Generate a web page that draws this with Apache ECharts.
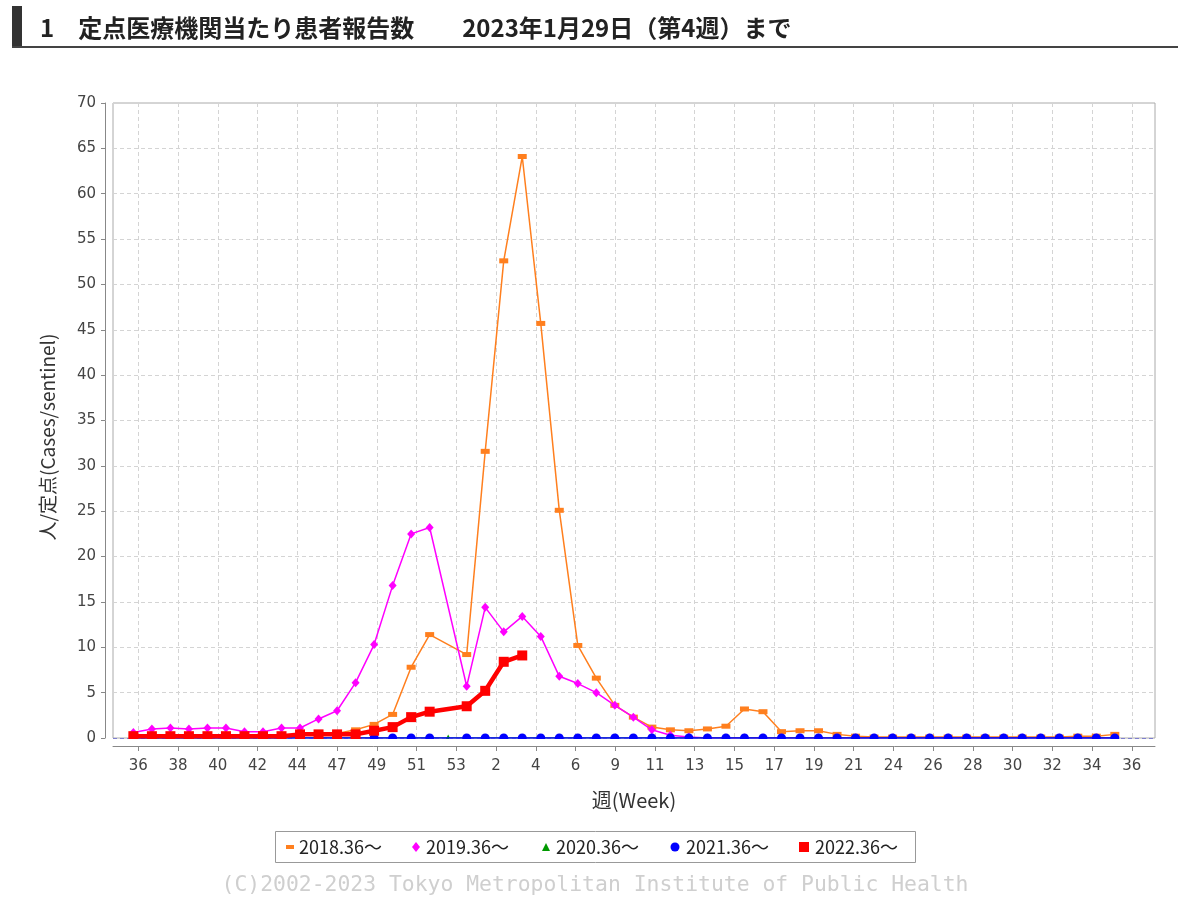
<!DOCTYPE html>
<html>
<head>
<meta charset="utf-8">
<script src="https://cdn.jsdelivr.net/npm/echarts@6/dist/echarts.min.js"></script>
<style>
html,body{margin:0;padding:0;background:#fff;}
#chart{width:1200px;height:920px;}
</style>
</head>
<body>
<div id="chart"></div>
<script>
// week slots along the x axis (season week 36 .. 53, 1 .. 36)
const weeks = ['36','37','38','39','40','41','42','43','44','45','46','47','48','49','50','51','52','53',
  '1','2','3','4','5','6','7','8','9','10','11','12','13','14','15','16','17','18','19','20',
  '21','22','23','24','25','26','27','28','29','30','31','32','33','34','35','36'];
const tickLabels = ['36','38','40','42','44','47','49','51','53','2','4','6','9','11','13','15','17','19','21','24','26','28','30','32','34','36'];
const seriesNames = ['2018.36〜','2019.36〜','2020.36〜','2021.36〜','2022.36〜'];

const s2018 = [0.1,0.1,0.1,0.1,0.1,0.2,0.2,0.2,0.2,0.3,
  0.5,0.5,0.9,1.5,2.6,7.8,11.4,null,9.2,31.6,
  52.6,64.1,45.7,25.1,10.2,6.6,3.6,2.3,1.2,0.9,
  0.8,1.0,1.3,3.2,2.9,0.7,0.8,0.8,0.4,0.2,
  0.1,0.1,0.1,0.1,0.1,0.1,0.1,0.1,0.1,0.1,
  0.1,0.2,0.2,0.4];
const s2019 = [0.6,1.0,1.1,1.0,1.1,1.1,0.7,0.7,1.1,1.1,
  2.1,3.0,6.1,10.3,16.8,22.5,23.2,null,5.7,14.4,
  11.7,13.4,11.2,6.8,6.0,5.0,3.6,2.3,0.9,0.3,
  0.1,0,0,0,0,0,0,0,0,0,
  0,0,0,0,0,0,0,0,0,0,
  0,0,0,0];
const s2020 = [0,0,0,0,0,0,0,0,0,0,
  0,0,0,0,0,0,0,0,0,0,
  0,0,0,0,0,0,0,0,0,0,
  0,0,0,0,0,0,0,0,0,0,
  0,0,0,0,0,0,0,0,0,0,
  0,0,0,0];
const s2021 = [0,0,0,0,0,0,0,0,0,0,
  0,0,0,0,0,0,0,null,0,0,
  0,0,0,0,0,0,0,0,0,0,
  0,0,0,0,0,0,0,0,0,0,
  0,0,0,0,0,0,0,0,0,0,
  0,0,0,0];
const s2022 = [0.2,0.2,0.2,0.2,0.2,0.2,0.2,0.2,0.2,0.4,
  0.4,0.4,0.4,0.8,1.2,2.3,2.9,null,3.5,5.2,
  8.4,9.1];

const colors = ['#ff7f1e','#ff00ff','#009900','#0000ff','#ff0000'];

// x-axis tick placement (in week-slot units)
const tickStart = 0.27, tickStep = 2.146;
const tickPos = tickLabels.map((_, k) => +(tickStart + k * tickStep).toFixed(4));

function pairs(arr){ return arr.map((v,i)=>[i, v == null ? '-' : v]); }

const chart = echarts.init(document.getElementById('chart'), null, {renderer:'canvas'});
const baseFont = '"Noto Sans CJK JP","Noto Sans",sans-serif';
const tickFont = '"DejaVu Sans",sans-serif';

const seriesData = [s2018, s2019, s2020, s2021, s2022];
const symbols = ['rect','diamond','triangle','circle','rect'];
const symSizes = [[9,5],[8,9],[7,7],[9,9],[10,10]];
const widths = [1.5,1.5,1.2,1.5,4.5];

const series = seriesData.map((arr, i) => ({
  name: seriesNames[i],
  type: 'line',
  data: pairs(arr),
  connectNulls: true,
  symbol: symbols[i],
  symbolSize: symSizes[i],
  showAllSymbol: true,
  lineStyle: {color: colors[i], width: widths[i]},
  itemStyle: {color: colors[i]},
  z: 2 + i,
  markLine: i === 3 ? {
    silent: true, symbol: 'none', label: {show: false},
    lineStyle: {color: '#7f7fcf', type: [4,3], width: 1},
    data: [{yAxis: 0}]
  } : undefined
}));

// legend drawn as graphics
const legendItems = [
  {x: 290, text: 299},
  {x: 416, text: 426},
  {x: 546, text: 556},
  {x: 675, text: 686},
  {x: 804, text: 815}
];
const legendY = 847;
const legendGraphics = [
  {type:'rect', shape:{x:275.5, y:831.5, width:640, height:31}, style:{fill:'#fff', stroke:'#999', lineWidth:1}, z:100}
];
legendItems.forEach((it, i) => {
  let g;
  if (i === 0) g = {type:'rect', shape:{x:it.x-4, y:legendY-2, width:8, height:4}, style:{fill:colors[0]}};
  else if (i === 1) g = {type:'polygon', shape:{points:[[it.x,legendY-5],[it.x+4,legendY],[it.x,legendY+5],[it.x-4,legendY]]}, style:{fill:colors[1]}};
  else if (i === 2) g = {type:'polygon', shape:{points:[[it.x,legendY-4],[it.x+4,legendY+4],[it.x-4,legendY+4]]}, style:{fill:colors[2]}};
  else if (i === 3) g = {type:'circle', shape:{cx:it.x, cy:legendY, r:4.5}, style:{fill:colors[3]}};
  else g = {type:'rect', shape:{x:it.x-5, y:legendY-5, width:10, height:10}, style:{fill:colors[4]}};
  g.z = 101;
  legendGraphics.push(g);
  legendGraphics.push({type:'text', x:it.text, y:legendY, z:101,
    style:{text: seriesNames[i], fill:'#222', font:'18px ' + baseFont, textVerticalAlign:'middle', textAlign:'left'}});
});

const option = {
  animation: false,
  backgroundColor: '#fff',
  textStyle: {fontFamily: baseFont},
  title: {
    text: '1　定点医療機関当たり患者報告数　　2023年1月29日（第4週）まで',
    left: 35, top: 11,
    textStyle: {fontSize: 24, fontWeight: 'bold', color: '#222', fontFamily: baseFont}
  },
  grid: {left: 113, right: 45, top: 103, bottom: 182, show: true, borderColor: '#aaa', borderWidth: 1, backgroundColor: '#fff'},
  xAxis: {
    type: 'value', min: -1.1, max: 55.17,
    offset: 8,
    axisLine: {show: true, onZero: false, lineStyle: {color: '#888', width: 1}},
    axisTick: {show: true, length: 5, customValues: tickPos, lineStyle: {color: '#888'}},
    axisLabel: {customValues: tickPos, margin: 13, fontSize: 15, color: '#444', fontFamily: tickFont,
      formatter: v => tickLabels[Math.round((v - tickStart) / tickStep)] || ''},
    splitLine: {show: true, lineStyle: {color: '#d4d4d4', type: [4,3], width: 1}}
  },
  yAxis: {
    type: 'value', min: 0, max: 70, interval: 5,
    offset: 8,
    axisLine: {show: true, onZero: false, lineStyle: {color: '#888', width: 1}},
    axisTick: {show: true, length: 4, lineStyle: {color: '#888'}},
    axisLabel: {margin: 9, fontSize: 15, color: '#444', fontFamily: tickFont},
    splitLine: {show: true, lineStyle: {color: '#d4d4d4', type: [4,3], width: 1}}
  },
  series: series,
  graphic: [
    {type:'rect', shape:{x:12, y:6, width:10, height:42}, style:{fill:'#333'}, z:10},
    {type:'rect', shape:{x:12, y:46, width:1166, height:2}, style:{fill:'#444'}, z:10},
    // mask below the plot area (clips marker halves like the reference)
    {type:'rect', shape:{x:106, y:739, width:1060, height:6}, style:{fill:'#fff'}, z:100},
    // axis names
    {type:'text', x:48, y:437, rotation: Math.PI/2, z:101,
      style:{text:'人/定点(Cases/sentinel)', fill:'#333', font:'19px ' + baseFont, textAlign:'center', textVerticalAlign:'middle'}},
    {type:'text', x:634, y:800, z:101,
      style:{text:'週(Week)', fill:'#333', font:'20px ' + baseFont, textAlign:'center', textVerticalAlign:'middle'}},
    ...legendGraphics,
    {type:'text', x:595, y:885, z:101,
      style:{text:'(C)2002-2023 Tokyo Metropolitan Institute of Public Health', fill:'#cfcfcf',
        font:'21.4px "DejaVu Sans Mono", monospace', textAlign:'center', textVerticalAlign:'middle'}}
  ]
};
chart.setOption(option);
</script>
</body>
</html>
